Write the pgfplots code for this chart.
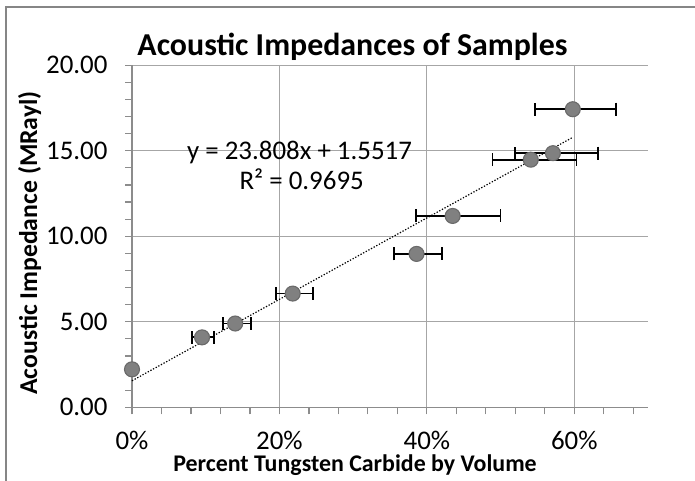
\documentclass[border=0pt]{standalone}
\usepackage{pgfplots}
\pgfplotsset{compat=1.18}
\usepackage{pgfplotstable}
\usepackage{fontspec}
\setmainfont{Carlito}

\definecolor{gridgray}{HTML}{A6A6A6}
\definecolor{axisgray}{HTML}{8C8C8C}
\definecolor{framegray}{HTML}{868686}
\definecolor{markfill}{HTML}{808080}
\definecolor{markedge}{HTML}{6A6A6A}

% volume fraction of WC, impedance (MRayl), lower / upper uncertainty in fraction
\pgfplotstableread{
x      y      em      ep
0.000  2.22   0.0000  0.000
0.095  4.09   0.0135  0.016
0.140  4.90   0.0170  0.021
0.218  6.65   0.0225  0.027
0.386  8.97   0.0310  0.035
0.435  11.19  0.0500  0.065
0.541  14.48  0.0520  0.062
0.571  14.86  0.0515  0.061
0.598  17.43  0.0510  0.059
}\samples

\begin{document}
\begin{tikzpicture}[x=1bp,y=1bp]
\useasboundingbox (0,0) rectangle (695,481);
% chart area border
\draw[framegray, line width=1.5bp] (6,-20) -- (6,474) -- (720,474);

\begin{axis}[
  at={(132bp,73.7bp)}, anchor=south west,
  scale only axis, width=516bp, height=342bp,
  xmin=0, xmax=0.7, ymin=0, ymax=20,
  clip=false,
  axis lines*=left,
  axis line style={draw=axisgray, line width=1.2bp},
  grid=major,
  major grid style={draw=gridgray, line width=1.2bp},
  xtick={0,0.2,0.4,0.6},
  xticklabels={0\%,20\%,40\%,60\%},
  minor xtick={0.04,0.08,0.12,0.16,0.24,0.28,0.32,0.36,0.44,0.48,0.52,0.56,0.64,0.68},
  ytick={0,5,10,15,20},
  minor ytick={1,2,3,4,6,7,8,9,11,12,13,14,16,17,18,19},
  tick align=outside,
  major tick length=7bp, minor tick length=7bp,
  every tick/.style={draw=axisgray, line width=1.2bp},
  minor tick style={draw=axisgray, line width=1.2bp},
  yticklabel style={xshift=-14bp,
    /pgf/number format/fixed,
    /pgf/number format/fixed zerofill,
    /pgf/number format/precision=2},
  /pgf/number format/assume math mode=true,
  ticklabel style={font=\fontsize{27}{31}\selectfont},
  xticklabel style={yshift=-13bp},
]
% horizontal uncertainty bars
\addplot[draw=none, mark=none,
  error bars/.cd, x dir=both, x explicit,
  error bar style={draw=black, line width=1.8bp},
  error mark options={draw=black, line width=1.8bp, mark size=6.5bp, rotate=90}]
  table[x=x, y=y, x error minus=em, x error plus=ep] {\samples};
% measured samples
\addplot[only marks, mark=*, mark size=7.5bp,
  mark options={fill=markfill, draw=markedge, line width=1.1bp}]
  table[x=x, y=y] {\samples};
% linear trendline
\addplot[black, line width=1.2bp, dash pattern=on 1.3bp off 1.7bp]
  coordinates {(0,1.5517) (0.598,15.789)};
\end{axis}

\node[anchor=base, font=\bfseries\fontsize{32}{38}\selectfont] at (352.5,425) {Acoustic Impedances of Samples};
\node[anchor=base, font=\fontsize{27}{31}\selectfont] at (299.5,321.7) {y = 23.808x + 1.5517};
\node[anchor=base, font=\fontsize{27}{31}\selectfont] at (301.7,291.7) {R² = 0.9695};
\node[anchor=base, font=\bfseries\fontsize{24}{29}\selectfont] at (355,9.5) {Percent Tungsten Carbide by Volume};
\node[anchor=base, rotate=90, font=\bfseries\fontsize{25.8}{31}\selectfont] at (37,238) {Acoustic Impedance (MRayl)};
\end{tikzpicture}
\end{document}
